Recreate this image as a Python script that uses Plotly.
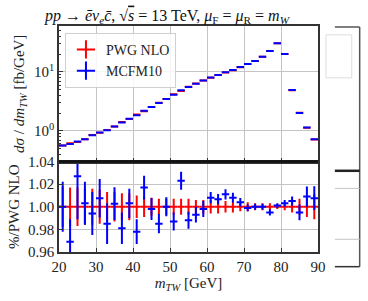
import plotly.graph_objects as go

# ---- data ----
bin_centers = [21, 23, 25, 27, 29, 31, 33, 35, 37, 39, 41, 43, 45, 47, 49, 51, 53, 55, 57, 59,
               61, 63, 65, 67, 69, 71, 73, 75, 77, 79, 81, 83, 85, 87, 89]
bin_halfwidth = 1.0

# MCFM10 cross section [fb/GeV]
mcfm_xs = [0.562, 0.598, 0.663, 0.724, 0.845, 0.937, 1.023, 1.19, 1.39, 1.60,
           1.85, 2.20, 2.54, 2.96, 3.49, 4.11, 4.88, 5.53, 6.31, 7.16,
           8.04, 8.91, 9.85, 10.8, 12.1, 13.6, 15.4, 18.2, 22.6, 30.8,
           20.2, 4.93, 2.02, 1.14, 0.72]

# MCFM10 / PWG NLO ratio and its uncertainty
mcfm_ratio = [1.000, 0.969, 1.027, 1.003, 0.994, 1.0076, 0.985, 1.0027, 0.981, 1.003,
              0.978, 1.017, 0.998, 0.985, 1.000, 0.987, 1.023, 0.988, 0.993, 0.998,
              1.008, 1.0067, 1.011, 1.008, 1.004, 0.999, 1.000, 1.000, 0.995, 1.001,
              1.003, 1.005, 0.995, 1.009, 1.0076]
mcfm_err = [0.022, 0.020, 0.038, 0.019, 0.019, 0.017, 0.018, 0.0145, 0.014, 0.013,
            0.011, 0.0105, 0.0097, 0.0085, 0.0085, 0.008, 0.008, 0.0075, 0.007, 0.007,
            0.005, 0.0045, 0.0045, 0.0043, 0.0038, 0.003, 0.0027, 0.0027, 0.0027, 0.002,
            0.003, 0.004, 0.007, 0.009, 0.0105]

# PWG NLO relative uncertainty
pwg_err = [0.018, 0.017, 0.017, 0.016, 0.016, 0.015, 0.013, 0.013, 0.012, 0.012,
           0.010, 0.009, 0.008, 0.007, 0.007, 0.007, 0.007, 0.007, 0.006, 0.006,
           0.006, 0.006, 0.005, 0.005, 0.004, 0.004, 0.003, 0.003, 0.003, 0.002,
           0.003, 0.005, 0.007, 0.009, 0.011]

pwg_xs = [m / r for m, r in zip(mcfm_xs, mcfm_ratio)]
pwg_ratio = [1.0] * len(bin_centers)

RED = "#ff0000"
BLUE = "#0000ff"
FONT = "Liberation Serif, DejaVu Serif, serif"

fig = go.Figure()

# upper panel
fig.add_trace(go.Scatter(
    x=bin_centers, y=pwg_xs, mode="markers", xaxis="x2", yaxis="y2",
    marker=dict(size=1, color="rgba(0,0,0,0)"), showlegend=False,
    error_x=dict(type="constant", value=bin_halfwidth, width=0, thickness=2, color=RED),
))
fig.add_trace(go.Scatter(
    x=bin_centers, y=mcfm_xs, mode="markers", xaxis="x2", yaxis="y2",
    marker=dict(size=1, color="rgba(0,0,0,0)"), showlegend=False,
    error_x=dict(type="constant", value=bin_halfwidth, width=0, thickness=2, color=BLUE),
))

# lower (ratio) panel
fig.add_trace(go.Scatter(
    x=bin_centers, y=pwg_ratio, mode="markers", xaxis="x", yaxis="y",
    marker=dict(size=1, color="rgba(0,0,0,0)"), showlegend=False,
    error_x=dict(type="constant", value=bin_halfwidth, width=0, thickness=2, color=RED),
    error_y=dict(type="data", array=pwg_err, width=0, thickness=2, color=RED),
))
fig.add_trace(go.Scatter(
    x=bin_centers, y=mcfm_ratio, mode="markers", xaxis="x", yaxis="y",
    marker=dict(size=1, color="rgba(0,0,0,0)"), showlegend=False,
    error_x=dict(type="constant", value=bin_halfwidth, width=0, thickness=2, color=BLUE),
    error_y=dict(type="data", array=mcfm_err, width=0, thickness=2, color=BLUE),
))

# legend entries
for name, col in [("PWG NLO", RED), ("MCFM10", BLUE)]:
    fig.add_trace(go.Scatter(
        x=[None], y=[None], mode="markers", xaxis="x2", yaxis="y2", name=name,
        marker=dict(symbol="cross-thin", size=13, line=dict(width=2, color=col), color=col),
    ))

split = 0.4004
axis_col = "#333333"
grid_col = "#c4c4c4"


def px_x(p):
    return (p - 57) / 261.0


def px_y(p):
    return (257 - p) / 231.0


shapes = [
    # panel separator
    dict(type="line", xref="paper", yref="paper", x0=0, x1=1, y0=split, y1=split,
         line=dict(color="#111111", width=2.5)),
]
# partially visible neighbouring frame at the right edge (decoration)
shapes += [
    dict(type="line", xref="paper", yref="paper", x0=px_x(360), x1=px_x(360),
         y0=px_y(27), y1=px_y(272), line=dict(color="#555555", width=1.5)),
    dict(type="line", xref="paper", yref="paper", x0=px_x(335), x1=px_x(360),
         y0=px_y(27), y1=px_y(27), line=dict(color="#555555", width=1.5)),
    dict(type="line", xref="paper", yref="paper", x0=px_x(335), x1=px_x(360),
         y0=px_y(174), y1=px_y(174), line=dict(color="#222222", width=2.5)),
    dict(type="line", xref="paper", yref="paper", x0=px_x(335), x1=px_x(360),
         y0=px_y(192), y1=px_y(192), line=dict(color=grid_col, width=1)),
    dict(type="line", xref="paper", yref="paper", x0=px_x(335), x1=px_x(360),
         y0=px_y(244), y1=px_y(244), line=dict(color=grid_col, width=1)),
    dict(type="line", xref="paper", yref="paper", x0=px_x(335), x1=px_x(360),
         y0=px_y(272), y1=px_y(272), line=dict(color="#333333", width=1.5)),
    dict(type="rect", xref="paper", yref="paper", x0=px_x(326), x1=px_x(352),
         y0=px_y(79), y1=px_y(35), line=dict(color="#dddddd", width=1)),
]

title_txt = ("<i>pp</i> → <i>ē</i><i>ν</i><sub><i>e</i></sub><i>c̄</i>, "
             "√<span style='text-decoration:overline'><i>s</i></span> = 13 TeV, "
             "<i>μ</i><sub>F</sub> = <i>μ</i><sub>R</sub> = <i>m</i><sub><i>W</i></sub>")

fig.update_layout(
    width=368, height=301,
    margin=dict(l=57, r=50, t=26, b=44),
    paper_bgcolor="white", plot_bgcolor="white",
    font=dict(family=FONT, size=15, color="#222222"),
    title=dict(text=title_txt, x=167 / 368, xanchor="center", y=1 - 15 / 301, yanchor="middle",
               font=dict(family=FONT, size=16, color="#111111")),
    showlegend=True,
    legend=dict(x=px_x(63), y=px_y(33), xanchor="left", yanchor="top",
                bgcolor="rgba(255,255,255,0.85)", bordercolor="#d0d0d0", borderwidth=1,
                font=dict(family=FONT, size=14, color="#222222"),
                itemwidth=30, tracegroupgap=0),
    xaxis=dict(domain=[0, 1], anchor="y", range=[20, 90], tickvals=[20, 30, 40, 50, 60, 70, 80, 90],
               showgrid=True, gridcolor=grid_col, gridwidth=1.2,
               showline=True, linecolor=axis_col, linewidth=1.5, mirror=True,
               ticks="inside", ticklen=4, tickcolor=axis_col, zeroline=False,
               title=dict(text="<i>m</i><sub><i>TW</i></sub> [GeV]", standoff=4,
                          font=dict(family=FONT, size=15))),
    yaxis=dict(domain=[0, split], anchor="x", range=[0.96, 1.04],
               tickvals=[0.96, 0.98, 1.00, 1.02, 1.04], ticktext=["0.96", "0.98", "1.00", "1.02", "1.04"],
               showgrid=True, gridcolor=grid_col, gridwidth=1.2,
               showline=True, linecolor=axis_col, linewidth=1.5, mirror=True,
               ticks="inside", ticklen=4, tickcolor=axis_col, zeroline=False,
               title=dict(text="%/PWG NLO", standoff=5, font=dict(family=FONT, size=15))),
    xaxis2=dict(domain=[0, 1], anchor="y2", range=[20, 90], matches="x",
                tickvals=[20, 30, 40, 50, 60, 70, 80, 90], showticklabels=False,
                showgrid=True, gridcolor=grid_col, gridwidth=1.2,
                showline=True, linecolor=axis_col, linewidth=1.5, mirror=True,
                ticks="inside", ticklen=4, tickcolor=axis_col, zeroline=False),
    yaxis2=dict(domain=[split, 1], anchor="x2", type="log", range=[-0.52, 1.78],
                tickvals=[1, 10], ticktext=["10<sup>0</sup>", "10<sup>1</sup>"],
                showgrid=True, gridcolor=grid_col, gridwidth=1.2,
                showline=True, linecolor=axis_col, linewidth=1.5, mirror=True,
                ticks="inside", ticklen=4, tickcolor=axis_col, zeroline=False,
                minor=dict(ticks="inside", ticklen=2.5, tickcolor=axis_col, showgrid=False,
                           tickvals=[0.4, 0.5, 0.6, 0.7, 0.8, 0.9, 2, 3, 4, 5, 6, 7, 8, 9,
                                     20, 30, 40, 50]),
                title=dict(text="<i>dσ</i> / <i>dm</i><sub><i>TW</i></sub> [fb/GeV]", standoff=6,
                           font=dict(family=FONT, size=15))),
    shapes=shapes,
)

fig.write_html("out.html", config={"displayModeBar": False},
               post_script="document.body.style.margin='0';")
